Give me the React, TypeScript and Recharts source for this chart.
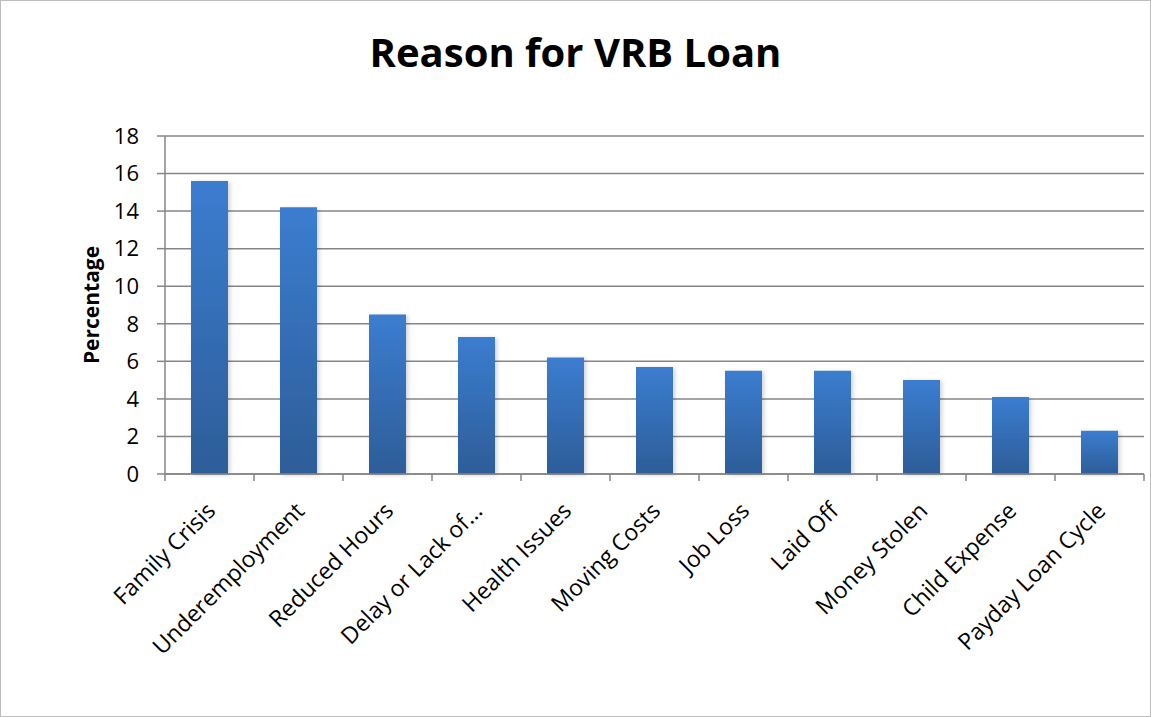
import React from 'react';
import { BarChart, Bar, XAxis, YAxis, CartesianGrid, Label } from 'recharts';

const categories = [
  'Family Crisis',
  'Underemployment',
  'Reduced Hours',
  'Delay or Lack of...',
  'Health Issues',
  'Moving Costs',
  'Job Loss',
  'Laid Off',
  'Money Stolen',
  'Child Expense',
  'Payday Loan Cycle',
];
const percentages = [15.6, 14.2, 8.5, 7.3, 6.2, 5.7, 5.5, 5.5, 5.0, 4.1, 2.3];
const yTicks = [0, 2, 4, 6, 8, 10, 12, 14, 16, 18];

const data = categories.map((name, i) => ({ name, value: percentages[i] }));

const FONT = '"Open Sans", "Noto Sans", sans-serif';
const AXIS = '#868686';

const XTick = (props: any) => {
  const { x, y, payload, index } = props;
  const off = payload.offset || 0;
  const tx = x + 1;
  const ty = y + 32;
  return (
    <g>
      <line x1={x - off} x2={x - off} y1={y} y2={y + 7} stroke={AXIS} strokeWidth={1.5} />
      {index === categories.length - 1 && (
        <line x1={x + off} x2={x + off} y1={y} y2={y + 7} stroke={AXIS} strokeWidth={1.5} />
      )}
      <text
        x={tx}
        y={ty}
        transform={`rotate(-45 ${tx} ${ty})`}
        textAnchor="end"
        dominantBaseline="central"
        fontFamily={FONT}
        fontSize={23}
        fill="#000"
      >
        {payload.value}
      </text>
    </g>
  );
};

export default function App() {
  return (
    <div style={{ position: 'absolute', left: 0, top: 0, width: 1151, height: 717, background: '#fff' }}>
      <BarChart
        width={1151}
        height={717}
        data={data}
        margin={{ top: 136, right: 7, bottom: 0, left: 0 }}
        barSize={37}
      >
        <defs>
          <linearGradient id="barGrad" x1="0" y1="0" x2="0" y2="1">
            <stop offset="0%" stopColor="#3B7DD0" />
            <stop offset="100%" stopColor="#2D5D98" />
          </linearGradient>
          <filter id="barShadow" x="-20%" y="-5%" width="140%" height="110%">
            <feDropShadow dx="2" dy="1" stdDeviation="2" floodColor="#000" floodOpacity="0.18" />
          </filter>
        </defs>
        <CartesianGrid vertical={false} stroke={AXIS} strokeWidth={1.5} />
        <XAxis
          dataKey="name"
          interval={0}
          height={243}
          tickLine={false}
          tickSize={0}
          tickMargin={0}
          axisLine={{ stroke: AXIS, strokeWidth: 1.5 }}
          tick={<XTick />}
        />
        <YAxis
          width={165}
          domain={[0, 18]}
          ticks={yTicks}
          interval={0}
          tickSize={8}
          tickMargin={18}
          tickLine={{ stroke: AXIS, strokeWidth: 1.5 }}
          axisLine={{ stroke: AXIS, strokeWidth: 1.5 }}
          tick={{ fill: '#000', fontSize: 22, fontFamily: FONT }}
        >
          <Label
            content={(p: any) => {
              const vb = p.viewBox || {};
              const cy = (vb.y || 0) + (vb.height || 0) / 2;
              return (
                <text
                  x={91}
                  y={cy}
                  transform={`rotate(-90 91 ${cy})`}
                  textAnchor="middle"
                  dominantBaseline="central"
                  fontFamily={FONT}
                  fontWeight="bold"
                  fontSize={21}
                  fill="#000"
                >
                  Percentage
                </text>
              );
            }}
          />
        </YAxis>
        <Bar dataKey="value" fill="url(#barGrad)" filter="url(#barShadow)" isAnimationActive={false} />
      </BarChart>
      <div
        style={{
          position: 'absolute',
          left: 0,
          top: 32,
          width: 1151,
          textAlign: 'center',
          fontFamily: FONT,
          fontWeight: 'bold',
          fontSize: 40,
          lineHeight: '40px',
          color: '#000',
        }}
      >
        Reason for VRB Loan
      </div>
      <div
        style={{
          position: 'absolute',
          left: 0,
          top: 0,
          width: 1151,
          height: 717,
          boxSizing: 'border-box',
          border: '1px solid #bdbdbd',
          pointerEvents: 'none',
        }}
      />
    </div>
  );
}
